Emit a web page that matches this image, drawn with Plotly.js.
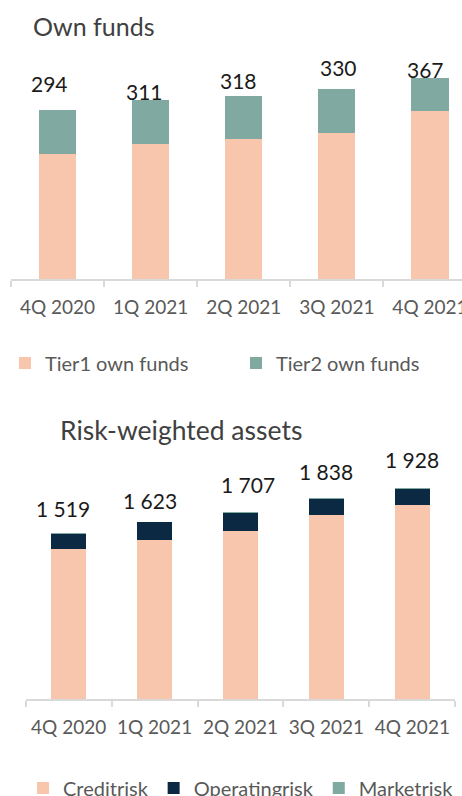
<!DOCTYPE html>
<html><head><meta charset="utf-8">
<script src="https://cdn.plot.ly/plotly-3.0.1.min.js"></script>
<style>html,body{margin:0;padding:0;background:#fff;overflow:hidden;} #chart{width:462px;height:810px;}</style>
</head><body><div id="chart"></div>
<script>
const quarters = ['4Q 2020', '1Q 2021', '2Q 2021', '3Q 2021', '4Q 2021'];
const tier1 = [218, 235, 243, 254, 292];
const tier2 = [76, 76, 75, 76, 58];
const ownFundsTotals = [294, 311, 318, 330, 367];
const creditRisk = [1377, 1455, 1540, 1679, 1770];
const operatingRisk = [135, 162, 160, 152, 152];
const marketRisk = [7, 6, 7, 7, 6];
const rwaTotals = [1519, 1623, 1707, 1838, 1928];

const PEACH = '#F8C6AC', TEAL = '#7FA9A1', NAVY = '#0B2943';
const FONT = 'Lato, "Open Sans", sans-serif';
const W = 462, H = 810;
const py = p => 1 - p / H;
const px = p => p / W;

function fmt(n) { return String(n).replace(/\B(?=(\d{3})+(?!\d))/g, ' '); }

const traces = [
  {type: 'bar', x: quarters, y: tier1, name: 'Tier1 own funds', marker: {color: PEACH}, width: 0.4, xaxis: 'x', yaxis: 'y', legend: 'legend', hoverinfo: 'none'},
  {type: 'bar', x: quarters, y: tier2, name: 'Tier2 own funds', marker: {color: TEAL}, width: 0.4, xaxis: 'x', yaxis: 'y', legend: 'legend3', hoverinfo: 'none'},
  {type: 'bar', x: quarters, y: creditRisk, name: 'Creditrisk', marker: {color: PEACH}, width: 0.4, xaxis: 'x2', yaxis: 'y2', legend: 'legend2', hoverinfo: 'none'},
  {type: 'bar', x: quarters, y: operatingRisk, name: 'Operatingrisk', marker: {color: NAVY}, width: 0.4, xaxis: 'x2', yaxis: 'y2', legend: 'legend2', hoverinfo: 'none'},
  {type: 'bar', x: quarters, y: marketRisk, name: 'Marketrisk', marker: {color: TEAL}, width: 0.4, xaxis: 'x2', yaxis: 'y2', legend: 'legend2', hoverinfo: 'none'}
];

const topShiftY = [26, 9, 16, 22, 8];
const topShiftX = [-8, -6, -5, 2, -4];
const botShiftY = [24, 21, 28, 27, 29];
const botShiftX = [-6, -5, 7, 0, 0];

const annotations = [];
quarters.forEach((q, i) => {
  annotations.push({xref: 'x', yref: 'y', x: q, y: tier1[i] + tier2[i], text: fmt(ownFundsTotals[i]),
    showarrow: false, yanchor: 'middle', xanchor: 'center', yshift: topShiftY[i], xshift: topShiftX[i],
    font: {family: FONT, size: 21, color: '#1a1a1a'}});
  annotations.push({xref: 'x2', yref: 'y2', x: q, y: creditRisk[i] + operatingRisk[i] + marketRisk[i], text: fmt(rwaTotals[i]),
    showarrow: false, yanchor: 'middle', xanchor: 'center', yshift: botShiftY[i], xshift: botShiftX[i],
    font: {family: FONT, size: 21, color: '#1a1a1a'}});
});
annotations.push({xref: 'paper', yref: 'paper', x: px(31), y: py(26), xanchor: 'left', yanchor: 'middle',
  text: 'Own funds', showarrow: false, font: {family: FONT, size: 25, color: '#404040'}});
annotations.push({xref: 'paper', yref: 'paper', x: px(58), y: py(430), xanchor: 'left', yanchor: 'middle',
  text: 'Risk-weighted assets', showarrow: false, font: {family: FONT, size: 26.5, color: '#404040'}});

const xCommon = {type: 'category', showline: true, linecolor: '#D9D9D9', linewidth: 2, ticks: 'outside',
  tickson: 'boundaries', ticklen: 6, tickcolor: '#D9D9D9', tickwidth: 2, showgrid: false, zeroline: false,
  tickfont: {family: FONT, size: 19, color: '#595959'}, ticklabelstandoff: 10, fixedrange: true};

const legendFont = {family: FONT, size: 20, color: '#595959'};

const layout = {
  width: W, height: H, autosize: false,
  margin: {l: 0, r: 0, t: 0, b: 0},
  paper_bgcolor: '#fff', plot_bgcolor: '#fff',
  barmode: 'stack',
  showlegend: true,
  xaxis: Object.assign({}, xCommon, {domain: [px(11), 1], range: [-0.5, -0.5 + 451 / 93.1], anchor: 'y'}),
  yaxis: {domain: [py(279), py(60)], range: [0, (279 - 60) / 0.575], visible: false, fixedrange: true},
  xaxis2: Object.assign({}, xCommon, {domain: [px(25.7), px(455.3)], range: [-0.5, 4.5], anchor: 'y2'}),
  yaxis2: {domain: [py(699.3), py(450)], range: [0, (699.3 - 450) / 0.1095], visible: false, fixedrange: true},
  legend: {orientation: 'h', x: px(5), xanchor: 'left', y: py(363), yanchor: 'middle',
    font: legendFont, bgcolor: 'rgba(0,0,0,0)'},
  legend3: {orientation: 'h', x: px(236), xanchor: 'left', y: py(363), yanchor: 'middle',
    font: legendFont, bgcolor: 'rgba(0,0,0,0)'},
  legend2: {orientation: 'h', x: px(23), xanchor: 'left', y: py(788), yanchor: 'middle', traceorder: 'normal',
    font: legendFont, bgcolor: 'rgba(0,0,0,0)'},
  annotations: annotations
};

Plotly.newPlot('chart', traces, layout, {displayModeBar: false, staticPlot: true});
</script>
</body></html>
